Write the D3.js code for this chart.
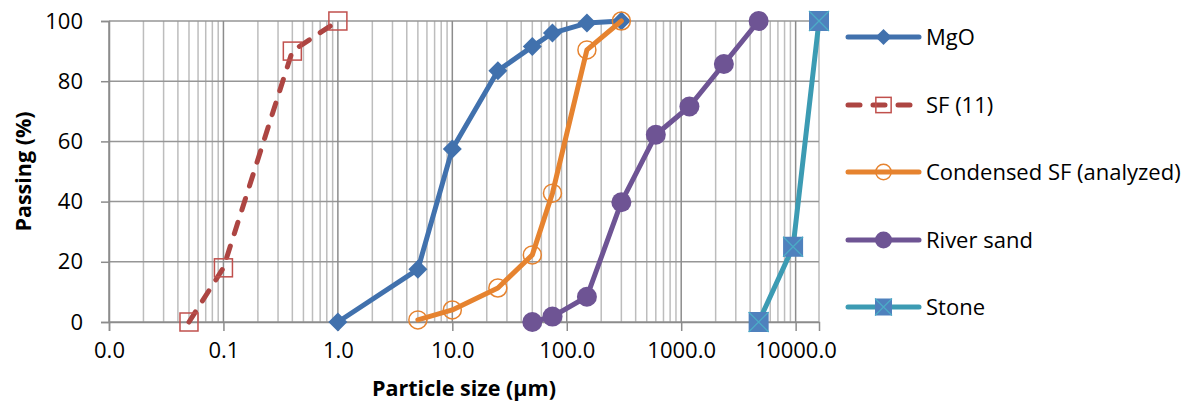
<!DOCTYPE html>
<html>
<head>
<meta charset="utf-8">
<script src="https://cdn.jsdelivr.net/npm/d3@7/dist/d3.min.js"></script>
<style>
  body { margin: 0; background: #fff; }
  text { font-family: "Open Sans", sans-serif; fill: #000; }
</style>
</head>
<body>
<svg id="chart" width="1198" height="403"></svg>
<script>
// particle size distributions (x in µm, y in % passing)
const mgoSize = [1, 5, 10, 25, 50, 75, 150, 300];
const mgoPass = [0, 17.5, 57.5, 83.5, 91.5, 96, 99.3, 100];
const sfSize = [0.05, 0.1, 0.4, 1];
const sfPass = [0, 18, 90, 100];
const csfSize = [5, 10, 25, 50, 75, 150, 300];
const csfPass = [0.7, 4, 11.3, 22.3, 42.8, 90.4, 100];
const sandSize = [50, 75, 150, 300, 600, 1180, 2360, 4750];
const sandPass = [0, 1.8, 8.4, 39.8, 62.2, 71.6, 85.7, 100];
const stoneSize = [4750, 9500, 16000];
const stonePass = [0, 25, 100];

const xTicks = [0.01, 0.1, 1, 10, 100, 1000, 10000];
const yTicks = [0, 20, 40, 60, 80, 100];

const series = [
  { name: "MgO", xs: mgoSize, ys: mgoPass, color: "#4171ad", marker: "diamond" },
  { name: "SF (11)", xs: sfSize, ys: sfPass, color: "#ad4542", marker: "square", dash: true },
  { name: "Condensed SF (analyzed)", xs: csfSize, ys: csfPass, color: "#e6832f", marker: "ring" },
  { name: "River sand", xs: sandSize, ys: sandPass, color: "#6e5494", marker: "dot" },
  { name: "Stone", xs: stoneSize, ys: stonePass, color: "#3c9bb3", marker: "xsquare" }
];

const svg = d3.select("#chart");
const plot = { left: 109, right: 819, top: 21, bottom: 322 };

const x = d3.scaleLog().domain([0.01, 16000]).range([plot.left, plot.right]);
const y = d3.scaleLinear().domain([0, 100]).range([plot.bottom, plot.top]);

// gridlines: minor first, then majors
const minor = [];
for (let e = -2; e <= 4; e++) {
  for (let k = 2; k <= 9; k++) {
    const v = k * Math.pow(10, e);
    if (v <= 16000) minor.push(v);
  }
}
const grid = svg.append("g");
grid.selectAll(".minor").data(minor).join("line")
  .attr("x1", d => x(d)).attr("x2", d => x(d))
  .attr("y1", plot.top).attr("y2", plot.bottom)
  .attr("stroke", "#bdbdbd").attr("stroke-width", 1.5);
grid.append("line")
  .attr("x1", plot.right).attr("x2", plot.right)
  .attr("y1", plot.top).attr("y2", plot.bottom)
  .attr("stroke", "#bdbdbd").attr("stroke-width", 1.5);
grid.selectAll(".hz").data(yTicks).join("line")
  .attr("x1", plot.left).attr("x2", plot.right)
  .attr("y1", d => y(d)).attr("y2", d => y(d))
  .attr("stroke", "#969696").attr("stroke-width", 1.5);
grid.selectAll(".major").data(xTicks).join("line")
  .attr("x1", d => x(d)).attr("x2", d => x(d))
  .attr("y1", plot.top).attr("y2", plot.bottom)
  .attr("stroke", "#8c8c8c").attr("stroke-width", 1.5);

// axes
const xAxis = svg.append("g")
  .attr("transform", `translate(0,${plot.bottom})`)
  .call(d3.axisBottom(x).tickValues(xTicks).tickSize(9).tickPadding(11)
    .tickFormat(d => d < 0.05 ? "0.0" : d3.format(".1f")(d)));
const yAxis = svg.append("g")
  .attr("transform", `translate(${plot.left},0)`)
  .call(d3.axisLeft(y).tickValues(yTicks).tickSize(8).tickPadding(18));
[xAxis, yAxis].forEach(a => {
  a.select(".domain").attr("stroke", "#8c8c8c").attr("stroke-width", 1.5);
  a.selectAll(".tick line").attr("stroke", "#8c8c8c").attr("stroke-width", 1.5);
  a.selectAll("text").style("font-size", "22px").style("font-family", "'Open Sans', sans-serif").attr("fill", "#000");
});

svg.append("text")
  .attr("x", (plot.left + plot.right) / 2).attr("y", 396)
  .attr("text-anchor", "middle")
  .style("font-size", "21.5px").style("font-weight", "bold")
  .text("Particle size (µm)");
svg.append("text")
  .attr("transform", `translate(31,${(plot.top + plot.bottom) / 2}) rotate(-90)`)
  .attr("text-anchor", "middle")
  .style("font-size", "21.5px").style("font-weight", "bold")
  .text("Passing (%)");

function drawMarker(g, type, color, s) {
  if (type === "diamond") {
    g.append("path").attr("d", `M0,${-s}L${s},0L0,${s}L${-s},0Z`).attr("fill", color);
  } else if (type === "square") {
    g.append("rect").attr("x", -s).attr("y", -s).attr("width", 2 * s).attr("height", 2 * s)
      .attr("fill", "none").attr("stroke", "#c0504d").attr("stroke-width", 1.5);
  } else if (type === "ring") {
    g.append("circle").attr("r", s).attr("fill", "none")
      .attr("stroke", color).attr("stroke-width", 1.5);
  } else if (type === "dot") {
    g.append("circle").attr("r", s).attr("fill", color);
  } else if (type === "xsquare") {
    g.append("rect").attr("x", -s).attr("y", -s).attr("width", 2 * s).attr("height", 2 * s)
      .attr("fill", "#4f81bd");
    g.append("path").attr("d", `M${-s},${-s}L${s},${s}M${s},${-s}L${-s},${s}`)
      .attr("stroke", "#4bacc6").attr("stroke-width", 1.3);
  }
}
const markerSize = { diamond: 9.5, square: 9, ring: 9, dot: 10, xsquare: 10 };

const line = d3.line().x(d => x(d[0])).y(d => y(d[1]));
series.forEach(s => {
  const pts = s.xs.map((v, i) => [v, s.ys[i]]);
  svg.append("path")
    .datum(pts)
    .attr("d", line)
    .attr("fill", "none")
    .attr("stroke", s.color)
    .attr("stroke-width", 5)
    .attr("stroke-linejoin", "round")
    .attr("stroke-linecap", "round")
    .attr("stroke-dasharray", s.dash ? "12,13" : null);
  pts.forEach(p => {
    const g = svg.append("g").attr("transform", `translate(${x(p[0])},${y(p[1])})`);
    drawMarker(g, s.marker, s.color, markerSize[s.marker]);
  });
});

// legend
const legendY = [37, 105, 172, 240, 307];
series.forEach((s, i) => {
  const g = svg.append("g").attr("transform", `translate(848,${legendY[i]})`);
  g.append("line").attr("x1", 0).attr("x2", 71)
    .attr("stroke", s.color).attr("stroke-width", 5).attr("stroke-linecap", "round")
    .attr("stroke-dasharray", s.dash ? "12,13" : null);
  const m = g.append("g").attr("transform", "translate(35.5,0)");
  drawMarker(m, s.marker, s.color, markerSize[s.marker] * 0.85);
  g.append("text").attr("x", 78).attr("y", 0).attr("dy", "0.35em")
    .style("font-size", "22px").text(s.name);
});
</script>
</body>
</html>
